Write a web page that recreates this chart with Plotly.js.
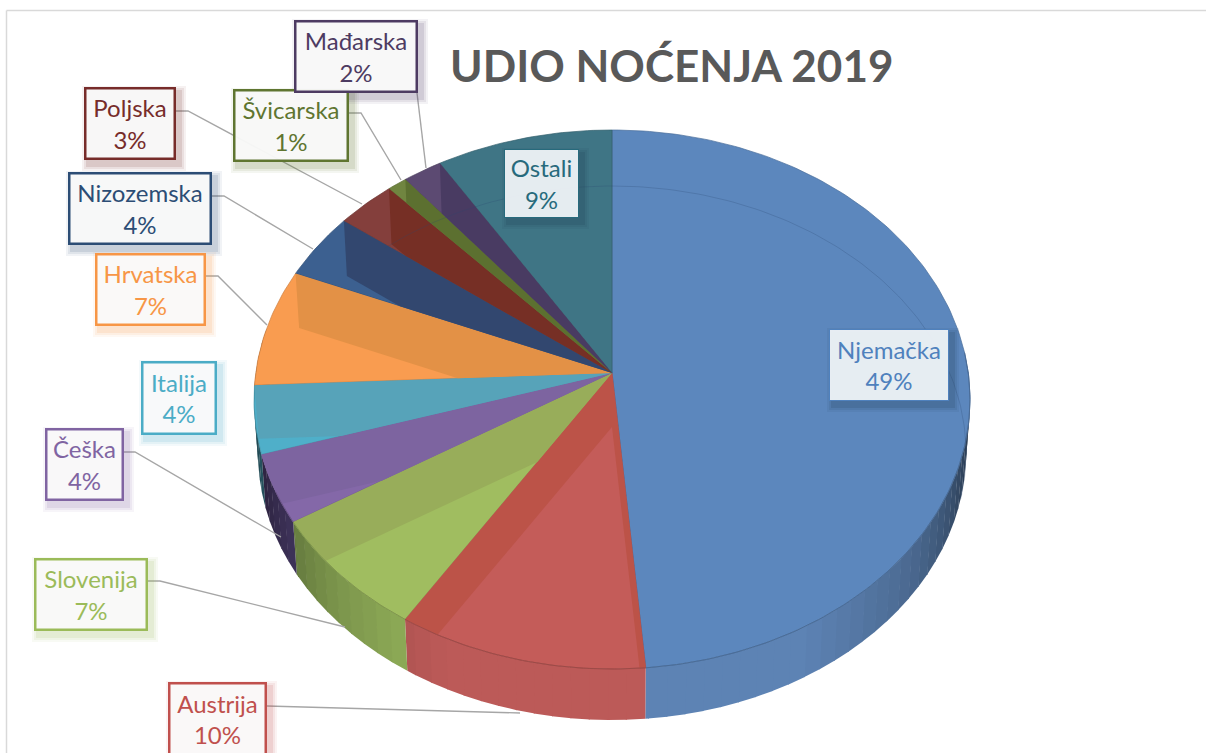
<!DOCTYPE html>
<html><head><meta charset="utf-8">
<script src="https://cdn.plot.ly/plotly-3.0.1.min.js"></script>
<style>html,body{margin:0;padding:0;background:#fff}#c{width:1206px;height:753px}</style>
</head><body><div id="c"></div>
<script>
// ---- data ----
const categories = ["Njemačka","Austrija","Slovenija","Češka","Italija","Hrvatska","Nizozemska","Poljska","Švicarska","Mađarska","Ostali"];
const shares     = [49,10,7,4,4,7,4,3,1,2,9];
const textColors = ["#4F81BD","#C0504D","#9BBB59","#8064A2","#4BACC6","#F79646","#2C4D75","#772C2A","#5F7530","#4D3B62","#276A7C"];
const topColors  = ["#5C87BD","#C45C59","#A0BD60","#8468A8","#4FAFC9","#F99C50","#3C6090","#843F3C","#708540","#5C4A72","#3F7585"];
const bandColors = ["#5C87BD","#BC5348","#98AD5A","#7D64A0","#57A3B9","#E39146","#32476F","#762F25","#5C7030","#493B62","#3F7585"];
const wallColors = ["#5D83B4","#BC5A58","#96B55C","#5C4A85","#4FAFC9","#F99C50","#3C6090","#843F3C","#708540","#5C4A72","#3F7585"];
const chartTitle = "UDIO NOĆENJA 2019";

// ---- 3D tilt of the pie (Excel perspective) ----
const apex = [612,373], apexLow = [612,427];
const topE = {cx:612, cy:399.5, rx:358, ry:269.5};
const lowE = {cx:612, cy:453, rx:354, ry:267};
function warp(c){ // perspective shifts where the cumulative share lands on the rim
  if(c<=49) return c - 0.5*c/49;
  return c - 0.5*(100-c)/51 + 2.1*Math.sin(Math.PI*(c-49)/51);
}
const ang = c => warp(c)/100*2*Math.PI;
const rim = (e,t) => [e.cx+e.rx*Math.sin(t), e.cy-e.ry*Math.cos(t)];

function area(p){let a=0;for(let i=0;i<p.length;i++){const q=p[(i+1)%p.length];a+=p[i][0]*q[1]-q[0]*p[i][1];}return a/2;}
function clip(subject,clipper){
  if(area(clipper)<0) clipper=clipper.slice().reverse();
  let out=subject;
  for(let i=0;i<clipper.length&&out.length;i++){
    const a=clipper[i],b=clipper[(i+1)%clipper.length];
    if(Math.hypot(a[0]-b[0],a[1]-b[1])<1e-6) continue;
    const side=p=>(b[0]-a[0])*(p[1]-a[1])-(b[1]-a[1])*(p[0]-a[0]);
    const inp=out; out=[];
    for(let j=0;j<inp.length;j++){
      const P=inp[j],Q=inp[(j+1)%inp.length],sP=side(P),sQ=side(Q);
      if(sP>=0) out.push(P);
      if((sP>=0)!==(sQ>=0)){const k=sP/(sP-sQ);out.push([P[0]+k*(Q[0]-P[0]),P[1]+k*(Q[1]-P[1])]);}
    }
  }
  return out;
}
function shade(hex,f){
  const n=parseInt(hex.slice(1),16);
  return `rgb(${Math.round((n>>16)*f)},${Math.round(((n>>8)&255)*f)},${Math.round((n&255)*f)})`;
}
function poly(points,fill,name,line){
  const pts=points.concat([points[0]]);
  return {type:"scatter",mode:line?"lines":"none",x:pts.map(p=>p[0]),y:pts.map(p=>p[1]),fill:"toself",fillcolor:fill,
    line:line||{width:0},name:name,hoverinfo:"name",showlegend:false};
}
function arc(e,t0,t1,step){
  const n=Math.max(2,Math.ceil(Math.abs(t1-t0)/step)),r=[];
  for(let i=0;i<=n;i++) r.push(rim(e,t0+(t1-t0)*i/n));
  return r;
}

const traces=[], deg=Math.PI/180;
let cum=0;
const spans=shares.map(v=>{const s=[ang(cum),ang(cum+v)];cum+=v;return s;});

// outer wall: strips shaded by their direction
categories.forEach((name,i)=>{
  const [t0,t1]=spans[i];
  const step=3*deg;
  for(let t=t0;t<t1-1e-9;t+=step){
    const u=Math.min(t+step+0.003,t1), mid=(t+u)/2/deg;
    if(mid<80||mid>285) continue;
    const d=Math.abs(mid-178);
    let f=d<30?1:d<55?1-(d-30)*0.008:0.8-(d-55)*0.0125;
    f=Math.max(0.42,f);
    traces.push(poly([rim(topE,t),rim(topE,u),rim(lowE,u),rim(lowE,t)],shade(wallColors[i],f),name));
  }
});
// top faces
categories.forEach((name,i)=>{
  const [t0,t1]=spans[i];
  traces.push(poly([apex].concat(arc(topE,t0,t1,1*deg)),topColors[i],name,{width:0.7,color:shade(topColors[i],0.82)}));
});
// cut faces seen through the translucent top
categories.forEach((name,i)=>{
  const [t0,t1]=spans[i];
  const wedge=[apex].concat(arc(topE,t0,t1,1*deg));
  [t0,t1].forEach(t=>{
    const quad=[apex,rim(topE,t),rim(lowE,t),apexLow];
    const c=clip(quad,wedge);
    if(c.length>2&&Math.abs(area(c))>2) traces.push(poly(c,bandColors[i],name));
  });
});
// front rim and the far edge of the base seen through the top
categories.forEach((name,i)=>{
  const [t0,t1]=spans[i];
  const a=Math.max(t0,80*deg),b=Math.min(t1,250*deg);
  if(b>a){const r=arc(topE,a,b,1*deg);
    traces.push({type:"scatter",mode:"lines",x:r.map(p=>p[0]),y:r.map(p=>p[1]),line:{width:1,color:shade(topColors[i],0.8)},hoverinfo:"skip",showlegend:false});}
});
const far=arc(lowE,-40*deg,100*deg,1*deg);
traces.push({type:"scatter",mode:"lines",x:far.map(p=>p[0]),y:far.map(p=>p[1]),line:{width:0.7,color:"rgba(40,70,110,0.35)"},hoverinfo:"skip",showlegend:false});

// ---- label boxes (left,top,right,bottom in page px) ----
const boxes = {
  "Njemačka":[829,329,949,401],"Austrija":[168,682,267,756],"Slovenija":[34,558,148,631],"Češka":[45,428,124,501],
  "Italija":[141,361,217,435],"Hrvatska":[95,253,206,326],"Nizozemska":[68,172,212,245],"Poljska":[84,87,176,160],
  "Švicarska":[233,89,349,162],"Mađarska":[294,20,418,93],"Ostali":[504,149,579,218]
};
const leaders = [
  [[417,93],[426,168]],
  [[349,113],[361,113],[401,180]],
  [[176,111],[188,111],[362,204]],
  [[212,196],[224,196],[313,249]],
  [[206,276],[218,276],[267,325]],
  [[124,452],[135,452],[281,537]],
  [[148,581],[160,581],[345,627]],
  [[267,706],[520,713]]
];
const shapes=[];
shapes.push({type:"line",xref:"x",yref:"y",x0:6.5,x1:1206,y0:10.5,y1:10.5,line:{color:"#D9D9D9",width:1.5}});
shapes.push({type:"line",xref:"x",yref:"y",x0:6.5,x1:6.5,y0:10.5,y1:753,line:{color:"#D9D9D9",width:1.5}});
leaders.forEach(l=>{
  shapes.push({type:"path",xref:"x",yref:"y",path:l.map((p,i)=>(i?"L":"M")+p[0]+","+p[1]).join(" "),line:{color:"#A6A6A6",width:1.4}});
});
const annotations=[];
categories.forEach((name,i)=>{
  const b=boxes[name],inside=(name==="Njemačka"||name==="Ostali");
  [[6,0.05],[4,0.07],[2,0.1]].forEach(s=>{
    shapes.push({type:"rect",xref:"x",yref:"y",x0:b[0]+4-s[0],x1:b[2]+4+s[0],y0:b[1]+5-s[0],y1:b[3]+5+s[0],
      fillcolor:inside?"#1E3A50":textColors[i],opacity:s[1]*(inside?1.4:1.3),line:{width:0}});
  });
  const bw=inside?1:2.5;
  annotations.push({xref:"x",yref:"y",x:(b[0]+b[2])/2,y:(b[1]+b[3])/2,xanchor:"center",yanchor:"middle",showarrow:false,
    text:name+"<br>"+shares[i]+"%",font:{family:"Lato, Carlito, sans-serif",size:24,color:textColors[i]},
    bgcolor:inside?"rgba(240,244,248,0.94)":"rgba(250,250,250,0.95)",bordercolor:textColors[i],borderwidth:bw,borderpad:0,
    width:b[2]-b[0]-2*bw,height:b[3]-b[1]-2*bw,align:"center",valign:"middle"});
});
annotations.push({xref:"x",yref:"y",x:671,y:65,xanchor:"center",yanchor:"middle",showarrow:false,text:"<b>"+chartTitle+"</b>",
  font:{family:"Lato, Carlito, sans-serif",size:44,color:"#595959"}});

Plotly.newPlot("c",traces,{
  width:1206,height:753,margin:{l:0,r:0,t:0,b:0},paper_bgcolor:"#fff",plot_bgcolor:"#fff",showlegend:false,
  xaxis:{range:[0,1206],visible:false,fixedrange:true},
  yaxis:{range:[753,0],visible:false,fixedrange:true},
  shapes:shapes,annotations:annotations
},{displayModeBar:false,staticPlot:false});
</script></body></html>
